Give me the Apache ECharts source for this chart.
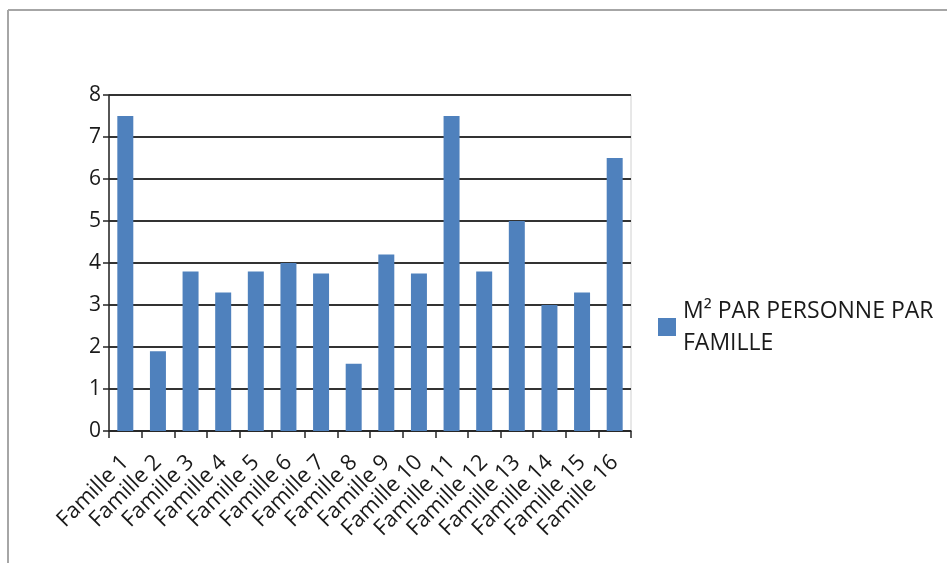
<!DOCTYPE html>
<html>
<head>
<meta charset="utf-8">
<script src="https://cdn.jsdelivr.net/npm/echarts@6/dist/echarts.min.js"></script>
<style>
  html, body { margin: 0; padding: 0; background: #fff; }
  #chart { width: 947px; height: 563px; }
</style>
</head>
<body>
<div id="chart"></div>
<script>
const categories = [
  "Famille 1", "Famille 2", "Famille 3", "Famille 4", "Famille 5", "Famille 6",
  "Famille 7", "Famille 8", "Famille 9", "Famille 10", "Famille 11", "Famille 12",
  "Famille 13", "Famille 14", "Famille 15", "Famille 16",
];
const surfaceParPersonne = [7.5, 1.9, 3.8, 3.3, 3.8, 4.0, 3.75, 1.6, 4.2, 3.75, 7.5, 3.8, 5.0, 3.0, 3.3, 6.5];
const seriesName = "M² PAR PERSONNE PAR\nFAMILLE";

const font = '"Open Sans", sans-serif';
const chart = echarts.init(document.getElementById("chart"), null, { renderer: "canvas" });

chart.setOption({
  backgroundColor: "#fff",
  animation: false,
  // cadre gris autour de la zone du graphique
  graphic: [
    { type: "line", shape: { x1: 8, y1: 10, x2: 947, y2: 10 }, style: { stroke: "#a6a6a6", lineWidth: 2 } },
    { type: "line", shape: { x1: 8, y1: 10, x2: 8, y2: 563 }, style: { stroke: "#a6a6a6", lineWidth: 2 } },
  ],
  grid: { left: 109, right: 316, top: 95, bottom: 132, show: true, borderColor: "#d0d0d0", borderWidth: 1 },
  legend: {
    data: [seriesName],
    left: 653,
    top: 290,
    itemWidth: 18,
    itemHeight: 18,
    icon: "rect",
    textStyle: { fontFamily: font, fontSize: 23, color: "#1a1a1a", lineHeight: 32, padding: [0, 0, 0, 2] },
  },
  xAxis: {
    type: "category",
    data: categories,
    axisLine: { lineStyle: { color: "#262626", width: 1.5 } },
    axisTick: { show: true, length: 7, lineStyle: { color: "#262626", width: 1.5 } },
    axisLabel: { rotate: 45, interval: 0, margin: 28, fontFamily: font, fontSize: 22, color: "#1a1a1a" },
  },
  yAxis: {
    type: "value",
    min: 0,
    max: 8,
    interval: 1,
    axisLine: { show: true, lineStyle: { color: "#262626", width: 1.5 } },
    axisTick: { show: true, length: 6, lineStyle: { color: "#262626", width: 1.5 } },
    axisLabel: { margin: 8, fontFamily: font, fontSize: 21, color: "#1a1a1a" },
    splitLine: { lineStyle: { color: "#333333", width: 1.8 } },
  },
  series: [
    {
      name: seriesName,
      type: "bar",
      data: surfaceParPersonne,
      barWidth: "49%",
      itemStyle: { color: "#4F81BD" },
    },
  ],
});
</script>
</body>
</html>
